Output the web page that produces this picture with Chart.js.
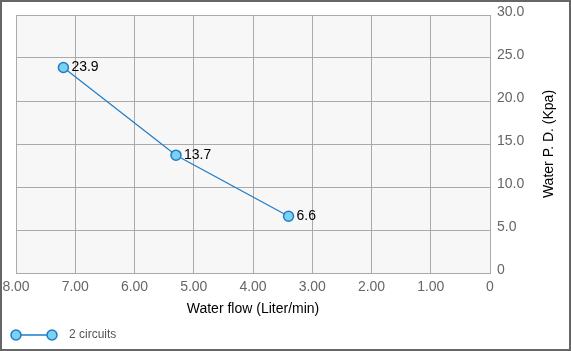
<!DOCTYPE html>
<html>
<head>
<meta charset="utf-8">
<script src="https://cdn.jsdelivr.net/npm/chart.js@4/dist/chart.umd.min.js"></script>
<style>
  body { margin: 0; background: #fff; }
  #wrap {
    position: relative;
    width: 571px;
    height: 351px;
    box-sizing: border-box;
    border: 2px solid #666;
    background: #fff;
    font-family: "Liberation Sans", Arial, sans-serif;
  }
  #chart { position: absolute; left: 0; top: 0; }
  .legend { position: absolute; left: 8px; top: 324px; height: 18px; }
  .legend svg { position: absolute; left: 0; top: 0; }
  .legend span { position: absolute; left: 59px; top: 1px; font-size: 12px; color: #555; white-space: nowrap; }
</style>
</head>
<body>
<div id="wrap">
  <canvas id="chart" width="567" height="347"></canvas>
  <div class="legend">
    <svg width="50" height="18">
      <line x1="6" y1="9" x2="42" y2="9" stroke="#1e7cc8" stroke-width="1.5"/>
      <circle cx="6" cy="9" r="5" fill="#7dd0f0" stroke="#1e7cc8" stroke-width="1.5"/>
      <circle cx="42" cy="9" r="5" fill="#7dd0f0" stroke="#1e7cc8" stroke-width="1.5"/>
    </svg>
    <span>2 circuits</span>
  </div>
</div>
<script>
// data
const flowValues = [7.2, 5.3, 3.4];      // Liter/min
const pressureDrop = [23.9, 13.7, 6.6];  // Kpa
const seriesName = '2 circuits';
const xTitle = 'Water flow (Liter/min)';
const yTitle = 'Water P. D. (Kpa)';

const FONT = '"Liberation Sans", Arial, sans-serif';

// grey plot background
const plotBg = {
  id: 'plotBg',
  beforeDraw(chart) {
    const { ctx, chartArea: a } = chart;
    ctx.save();
    ctx.fillStyle = '#f7f7f7';
    ctx.fillRect(a.left, a.top, a.right - a.left, a.bottom - a.top);
    ctx.restore();
  }
};

// value labels to the right of each point
const pointLabels = {
  id: 'pointLabels',
  afterDatasetsDraw(chart) {
    const { ctx } = chart;
    const meta = chart.getDatasetMeta(0);
    ctx.save();
    ctx.font = '14px ' + FONT;
    ctx.fillStyle = '#000';
    ctx.textAlign = 'left';
    ctx.textBaseline = 'middle';
    meta.data.forEach((pt, i) => {
      ctx.fillText(pressureDrop[i].toFixed(1), pt.x + 8, pt.y);
    });
    ctx.restore();
  }
};

// right-hand axis title, reading bottom to top
const rightTitle = {
  id: 'rightTitle',
  afterDraw(chart) {
    const { ctx, chartArea: a } = chart;
    ctx.save();
    ctx.translate(547, (a.top + a.bottom) / 2);
    ctx.rotate(-Math.PI / 2);
    ctx.font = '14px ' + FONT;
    ctx.fillStyle = '#000';
    ctx.textAlign = 'center';
    ctx.textBaseline = 'middle';
    ctx.fillText(yTitle, 0, 0);
    ctx.restore();
  }
};

new Chart(document.getElementById('chart'), {
  type: 'scatter',
  data: {
    datasets: [{
      label: seriesName,
      data: flowValues.map((x, i) => ({ x: x, y: pressureDrop[i] })),
      showLine: true,
      borderColor: '#1e7cc8',
      borderWidth: 1.2,
      backgroundColor: '#7dd0f0',
      pointBackgroundColor: '#7dd0f0',
      pointBorderColor: '#1e7cc8',
      pointBorderWidth: 1.5,
      pointRadius: 5,
      tension: 0
    }]
  },
  options: {
    responsive: false,
    animation: false,
    layout: { padding: { left: 14, top: 13, right: 0, bottom: 31 } },
    plugins: {
      legend: { display: false },
      tooltip: { enabled: false }
    },
    scales: {
      x: {
        type: 'linear',
        reverse: true,
        min: 0,
        max: 8,
        afterFit(s) {
          s.height = 45;
          s.paddingLeft = 0;
          s.paddingRight = 0;
        },
        ticks: {
          stepSize: 1,
          padding: 6,
          color: '#666',
          font: { family: FONT, size: 14 },
          callback: v => v === 0 ? '0' : v.toFixed(2)
        },
        grid: { color: '#aaa', drawTicks: false },
        border: { color: '#aaa' },
        title: {
          display: true,
          text: xTitle,
          color: '#000',
          font: { family: FONT, size: 14 },
          padding: { top: 0, bottom: 0 }
        }
      },
      y: {
        type: 'linear',
        position: 'right',
        min: 0,
        max: 30,
        afterFit(s) {
          s.width = 79;
          s.paddingTop = 0;
          s.paddingBottom = 0;
        },
        ticks: {
          stepSize: 5,
          padding: 7,
          labelOffset: -3,
          color: '#666',
          font: { family: FONT, size: 14 },
          callback: v => v === 0 ? '0' : v.toFixed(1)
        },
        grid: { color: '#aaa', drawTicks: false },
        border: { color: '#aaa' }
      }
    }
  },
  plugins: [plotBg, pointLabels, rightTitle]
});
</script>
</body>
</html>
